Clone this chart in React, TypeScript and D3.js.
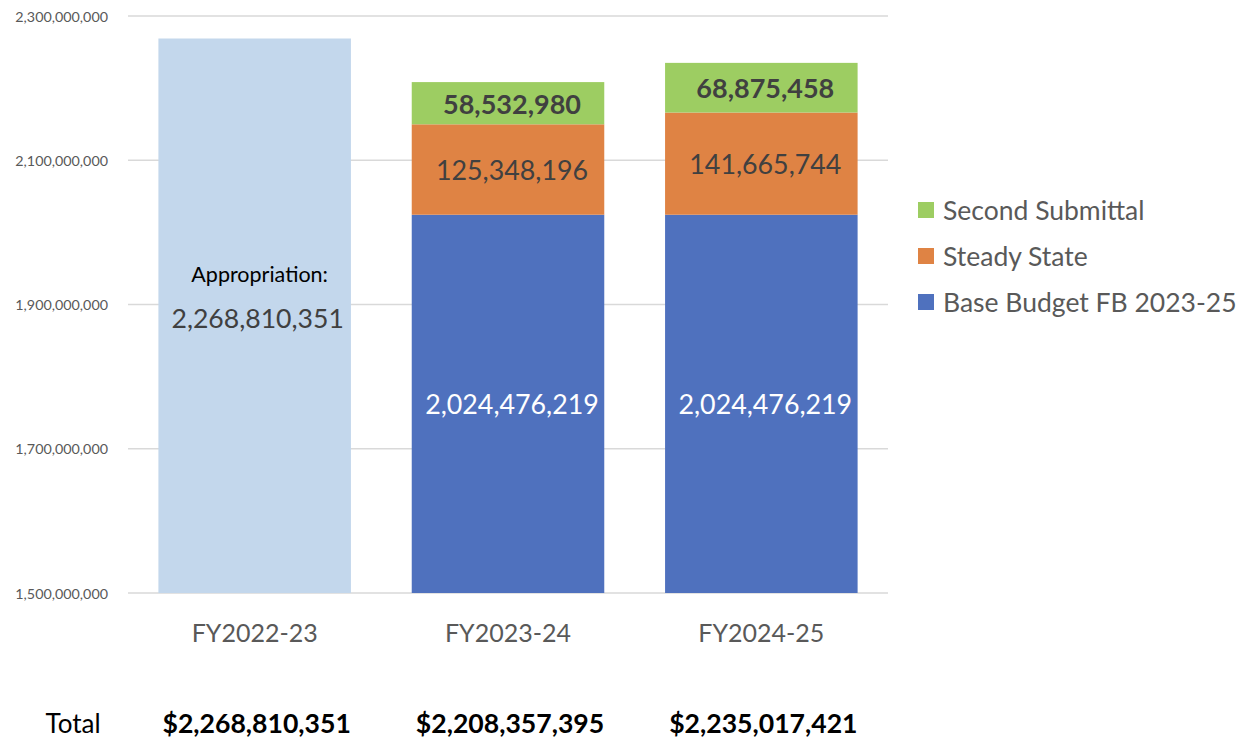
import React from "react";
import * as d3 from "d3";

const categories = ["FY2022-23", "FY2023-24", "FY2024-25"];
const appropriation = [2268810351, 0, 0];
const baseBudget = [0, 2024476219, 2024476219];
const steadyState = [0, 125348196, 141665744];
const secondSubmittal = [0, 58532980, 68875458];
const totals = [2268810351, 2208357395, 2235017421];
const yTicks = [1500000000, 1700000000, 1900000000, 2100000000, 2300000000];
const legendItems = ["Second Submittal", "Steady State", "Base Budget FB 2023-25"];

const FONT = "Lato, 'Open Sans', sans-serif";
const COLORS: Record<string, string> = {
  appropriation: "#C3D7EC",
  baseBudget: "#4F71BE",
  steadyState: "#DF8344",
  secondSubmittal: "#9DCD62",
};

export default function App() {
  const x = d3.scaleBand<string>().domain(categories).range([128, 888]).paddingInner(0.24).paddingOuter(0.12);
  const y = d3.scaleLinear().domain([1500000000, 2300000000]).range([593, 16]);
  const yMin = y.domain()[0];
  const fmt = d3.format(",");

  const rows = categories.map((c, i) => ({
    cat: c,
    appropriation: appropriation[i],
    baseBudget: baseBudget[i],
    steadyState: steadyState[i],
    secondSubmittal: secondSubmittal[i],
  }));
  const keys = ["appropriation", "baseBudget", "steadyState", "secondSubmittal"];
  const stacked = d3.stack<any>().keys(keys)(rows);

  const legendColors = [COLORS.secondSubmittal, COLORS.steadyState, COLORS.baseBudget];

  return (
    <svg width={1240} height={742} style={{ position: "absolute", left: 0, top: 0, background: "#fff" }} fontFamily={FONT}>
      {yTicks.map((t) => (
        <g key={t}>
          <line x1={128} x2={888} y1={y(t)} y2={y(t)} stroke="#D9D9D9" strokeWidth={1.3} />
          <text x={108} y={y(t)} textAnchor="end" dominantBaseline="central" fontSize={14.3} fill="#595959">
            {fmt(t)}
          </text>
        </g>
      ))}
      {stacked.map((layer) => (
        <g key={layer.key} fill={COLORS[layer.key]}>
          {layer.map((d, i) => {
            const v0 = Math.max(d[0], yMin);
            const v1 = d[1];
            if (v1 - d[0] <= 0) return null;
            return (
              <rect key={i} x={x(categories[i])} width={x.bandwidth()} y={y(v1)} height={y(v0) - y(v1)} />
            );
          })}
        </g>
      ))}
      {stacked.map((layer) =>
        layer.map((d, i) => {
          if (d[1] - d[0] <= 0) return null;
          const cx = (x(categories[i]) as number) + x.bandwidth() / 2;
          const v0 = Math.max(d[0], yMin);
          const cy = (y(v0) + y(d[1])) / 2;
          const value = d[1] - d[0];
          if (layer.key === "appropriation") {
            return (
              <g key={layer.key + i}>
                <text x={cx + 5} y={cy - 42} textAnchor="middle" dominantBaseline="central" fontSize={21.5} fill="#000">
                  Appropriation:
                </text>
                <text x={cx + 3} y={cy + 2} textAnchor="middle" dominantBaseline="central" fontSize={26.6} fill="#404040">
                  {fmt(value)}
                </text>
              </g>
            );
          }
          const fill = layer.key === "baseBudget" ? "#FFFFFF" : "#404040";
          const bold = layer.key === "secondSubmittal";
          return (
            <text key={layer.key + i} x={cx + 4} y={cy} textAnchor="middle" dominantBaseline="central" fontSize={bold ? 27 : 26.8} fontWeight={bold ? 700 : 400} fill={fill}>
              {fmt(value)}
            </text>
          );
        })
      )}
      {categories.map((c) => (
        <text key={c} x={(x(c) as number) + x.bandwidth() / 2} y={632} textAnchor="middle" dominantBaseline="central" fontSize={25} fill="#595959">
          {c}
        </text>
      ))}
      <text x={73} y={723} textAnchor="middle" dominantBaseline="central" fontSize={26} fill="#000">
        Total
      </text>
      {categories.map((c, i) => (
        <text key={"t" + c} x={(x(c) as number) + x.bandwidth() / 2 + 2} y={723} textAnchor="middle" dominantBaseline="central" fontSize={26.6} fontWeight={700} fill="#000">
          {"$" + fmt(totals[i])}
        </text>
      ))}
      {legendItems.map((l, i) => (
        <g key={l} transform={`translate(918, ${210 + i * 46})`}>
          <rect x={0} y={-8} width={16} height={16} fill={legendColors[i]} />
          <text x={25} y={0} dominantBaseline="central" fontSize={26.5} fill="#595959">
            {l}
          </text>
        </g>
      ))}
    </svg>
  );
}
